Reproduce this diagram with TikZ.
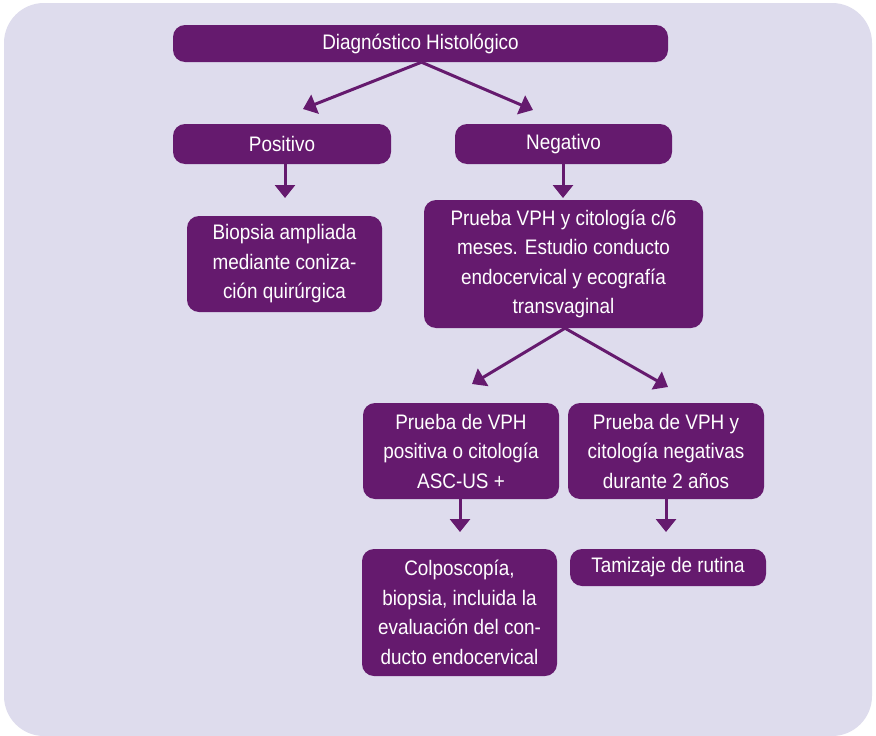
\documentclass[tikz,border=0pt]{standalone}
\usepackage{fontspec}
\setmainfont[FakeStretch=0.9]{Liberation Sans}
\usetikzlibrary{arrows.meta}
\definecolor{panel}{HTML}{DEDCED}
\definecolor{plum}{HTML}{651A6E}
\tikzset{
  box/.style={fill=plum, rounded corners=12pt, text=white, align=center,
    inner sep=0pt, font=\fontsize{21}{29.5}\selectfont},
  flow/.style={draw=plum, line width=3pt,
    -{Triangle[width=20pt,length=13pt]}}
}
\begin{document}
\begin{tikzpicture}[x=1pt,y=-1pt]
  \useasboundingbox (0,0) rectangle (876,736);
  \fill[white] (0,0) rectangle (876,736);
  \fill[panel, rounded corners=40pt] (4,3) rectangle (872,736);

  % boxes
  \node[box, minimum width=495pt, minimum height=37pt] (diag) at (420.5,43.5) {Diagnóstico Histológico};
  \node[box, minimum width=218pt, minimum height=40pt] (pos) at (282,144) {Positivo};
  \node[box, minimum width=217pt, minimum height=40pt] (neg) at (563.5,144) {Negativo};
  \node[box, minimum width=195pt, minimum height=96pt] (biop) at (284.5,264)
    {Biopsia ampliada\\mediante coniza-\\ción quirúrgica};
  \node[box, minimum width=279pt, minimum height=128pt] (vph) at (563.5,264)
    {Prueba VPH y citología c/6\\meses. Estudio conducto\\endocervical y ecografía\\transvaginal};
  \node[box, minimum width=196pt, minimum height=96pt] (vpos) at (461,451)
    {Prueba de VPH\\positiva o citología\\ASC-US +};
  \node[box, minimum width=196pt, minimum height=96pt] (vneg) at (666,451)
    {Prueba de VPH y\\citología negativas\\durante 2 años};
  \node[box, minimum width=195pt, minimum height=127pt] (colp) at (459.5,612.5)
    {Colposcopía,\\biopsia, incluida la\\evaluación del con-\\ducto endocervical};
  \node[box, minimum width=196pt, minimum height=37pt] (tam) at (668,567.5)
    {Tamizaje de rutina};

  % arrow tips
  \coordinate (tpos) at (303,109);
  \coordinate (tneg) at (533,110);
  \coordinate (tbiop) at (285,198);
  \coordinate (tvph) at (563,198);
  \coordinate (tvpos) at (472,384);
  \coordinate (tvneg) at (668,387);
  \coordinate (tcolp) at (460,532);
  \coordinate (ttam) at (666,532);

  % connectors
  \draw[flow] ([xshift=1pt]diag.south) -- (tpos);
  \draw[flow] ([xshift=1pt]diag.south) -- (tneg);
  \draw[flow] (tbiop |- pos.south) -- (tbiop);
  \draw[flow] (tvph |- neg.south) -- (tvph);
  \draw[flow] ([xshift=1.5pt]vph.south) -- (tvpos);
  \draw[flow] ([xshift=1.5pt]vph.south) -- (tvneg);
  \draw[flow] (tcolp |- vpos.south) -- (tcolp);
  \draw[flow] (ttam |- vneg.south) -- (ttam);
\end{tikzpicture}
\end{document}
